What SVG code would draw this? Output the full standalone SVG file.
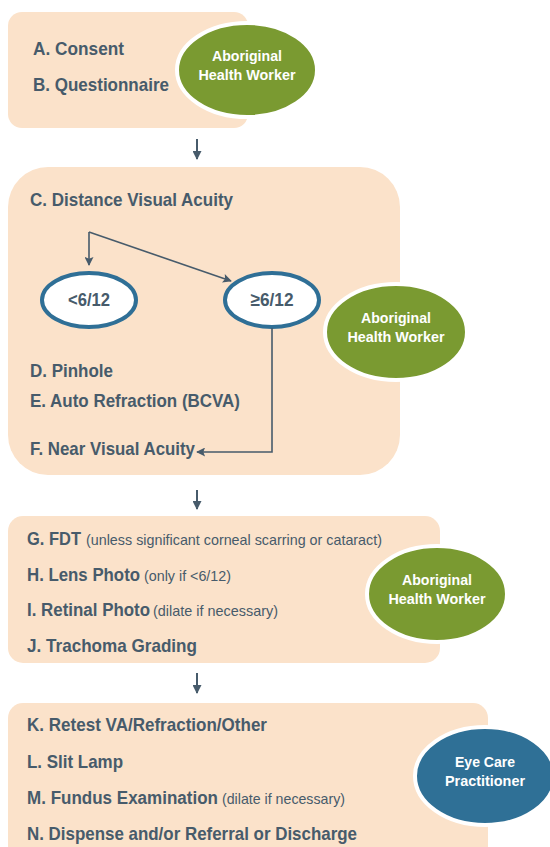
<svg xmlns="http://www.w3.org/2000/svg" width="550" height="847" viewBox="0 0 550 847">
<defs>
<style>
.box{fill:#fbe2ca}
.t{font-family:"Liberation Sans",Arial,sans-serif;font-weight:bold;font-size:19px;fill:#475b6b}
.s{font-family:"Liberation Sans",Arial,sans-serif;font-weight:normal;font-size:15px;fill:#475b6b}
.role{stroke:#fff;stroke-width:4}
.green{fill:#7a9a31}
.blue{fill:#2f7096}
.rt{font-family:"Liberation Sans",Arial,sans-serif;font-weight:bold;font-size:15.5px;fill:#fff;text-anchor:middle}
.va{fill:#fff;stroke:#2f6f96;stroke-width:4}
.vt{font-family:"Liberation Sans",Arial,sans-serif;font-weight:bold;font-size:19px;fill:#475b6b;text-anchor:middle}
.ln{fill:none;stroke:#475b6b;stroke-width:2}
.ln2{fill:none;stroke:#475b6b;stroke-width:1.6}
</style>
<marker id="ah" viewBox="0 0 10 10" refX="9" refY="5" markerWidth="11" markerHeight="9" orient="auto" markerUnits="userSpaceOnUse">
<path d="M0,0 L10,5 L0,10 z" fill="#475b6b"/>
</marker>
<marker id="ah2" viewBox="0 0 10 10" refX="9" refY="5" markerWidth="10" markerHeight="9" orient="auto" markerUnits="userSpaceOnUse">
<path d="M0,0 L10,5 L0,10 L2,5 z" fill="#475b6b"/>
</marker>
</defs>

<g id="step1">
<rect class="box" x="8" y="12" width="240" height="116" rx="14"/>
<text class="t" x="33" y="55" textLength="91" lengthAdjust="spacingAndGlyphs">A. Consent</text>
<text class="t" x="33" y="91" textLength="136" lengthAdjust="spacingAndGlyphs">B. Questionnaire</text>
</g>
<g id="role1">
<ellipse class="role green" cx="247" cy="70" rx="70" ry="47"/>
<text class="rt" x="247" y="61" textLength="70" lengthAdjust="spacingAndGlyphs">Aboriginal</text>
<text class="rt" x="247" y="80" textLength="97" lengthAdjust="spacingAndGlyphs">Health Worker</text>
</g>

<g id="step2">
<rect class="box" x="8" y="167" width="392" height="308" rx="40"/>
<text class="t" x="30" y="206" textLength="203" lengthAdjust="spacingAndGlyphs">C. Distance Visual Acuity</text>
<text class="t" x="30" y="377" textLength="83" lengthAdjust="spacingAndGlyphs">D. Pinhole</text>
<text class="t" x="30" y="407" textLength="210" lengthAdjust="spacingAndGlyphs">E. Auto Refraction (BCVA)</text>
<text class="t" x="30" y="455" textLength="165" lengthAdjust="spacingAndGlyphs">F. Near Visual Acuity</text>
</g>
<g id="va-low">
<ellipse class="va" cx="89" cy="300" rx="47" ry="27"/>
<text class="vt" x="89" y="306" textLength="42" lengthAdjust="spacingAndGlyphs">&lt;6/12</text>
</g>
<g id="va-high">
<ellipse class="va" cx="272" cy="300" rx="47" ry="27"/>
<text class="vt" x="272" y="306" textLength="43" lengthAdjust="spacingAndGlyphs">≥6/12</text>
</g>
<g id="role2">
<ellipse class="role green" cx="396" cy="332" rx="71" ry="48"/>
<text class="rt" x="396" y="323" textLength="70" lengthAdjust="spacingAndGlyphs">Aboriginal</text>
<text class="rt" x="396" y="342" textLength="97" lengthAdjust="spacingAndGlyphs">Health Worker</text>
</g>

<g id="step3">
<rect class="box" x="8" y="516" width="432" height="147" rx="15"/>
<text class="t" x="0" y="545" transform="matrix(0.885 0 0 1 27 0)" textLength="61" lengthAdjust="spacingAndGlyphs">G. FDT</text>
<text class="s" x="86" y="545" textLength="296" lengthAdjust="spacingAndGlyphs">(unless significant corneal scarring or cataract)</text>
<text class="t" x="0" y="581" transform="matrix(0.885 0 0 1 27 0)" textLength="127.7" lengthAdjust="spacingAndGlyphs">H. Lens Photo</text>
<text class="s" x="144" y="581" textLength="87" lengthAdjust="spacingAndGlyphs">(only if &lt;6/12)</text>
<text class="t" x="0" y="616" transform="matrix(0.885 0 0 1 27 0)" textLength="139" lengthAdjust="spacingAndGlyphs">I. Retinal Photo</text>
<text class="s" x="153" y="616" textLength="125" lengthAdjust="spacingAndGlyphs">(dilate if necessary)</text>
<text class="t" x="27" y="652" textLength="170" lengthAdjust="spacingAndGlyphs">J. Trachoma Grading</text>
</g>
<g id="role3">
<ellipse class="role green" cx="437" cy="594" rx="70" ry="48"/>
<text class="rt" x="437" y="585" textLength="70" lengthAdjust="spacingAndGlyphs">Aboriginal</text>
<text class="rt" x="437" y="604" textLength="97" lengthAdjust="spacingAndGlyphs">Health Worker</text>
</g>

<g id="step4">
<rect class="box" x="8" y="703" width="480" height="170" rx="15"/>
<text class="t" x="27" y="731" textLength="240" lengthAdjust="spacingAndGlyphs">K. Retest VA/Refraction/Other</text>
<text class="t" x="27" y="768" textLength="96" lengthAdjust="spacingAndGlyphs">L. Slit Lamp</text>
<text class="t" x="0" y="804" transform="matrix(0.885 0 0 1 27 0)" textLength="215.8" lengthAdjust="spacingAndGlyphs">M. Fundus Examination</text>
<text class="s" x="222" y="804" textLength="123" lengthAdjust="spacingAndGlyphs">(dilate if necessary)</text>
<text class="t" x="27" y="840" textLength="330" lengthAdjust="spacingAndGlyphs">N. Dispense and/or Referral or Discharge</text>
</g>
<g id="role4">
<ellipse class="role blue" cx="485" cy="776" rx="70" ry="49"/>
<text class="rt" x="485" y="767" textLength="60" lengthAdjust="spacingAndGlyphs">Eye Care</text>
<text class="rt" x="485" y="786" textLength="80" lengthAdjust="spacingAndGlyphs">Practitioner</text>
</g>

<g id="connectors">
<line class="ln" x1="197" y1="139" x2="197" y2="159" marker-end="url(#ah)"/>
<line class="ln" x1="197" y1="490" x2="197" y2="509" marker-end="url(#ah)"/>
<line class="ln" x1="197" y1="673" x2="197" y2="693" marker-end="url(#ah)"/>
<polyline class="ln2" points="89,232 231,281" marker-end="url(#ah2)"/>
<polyline class="ln2" points="89,232 89,265" marker-end="url(#ah2)"/>
<polyline class="ln2" points="272,328 272,452 197,452" marker-end="url(#ah2)"/>
</g>
</svg>
